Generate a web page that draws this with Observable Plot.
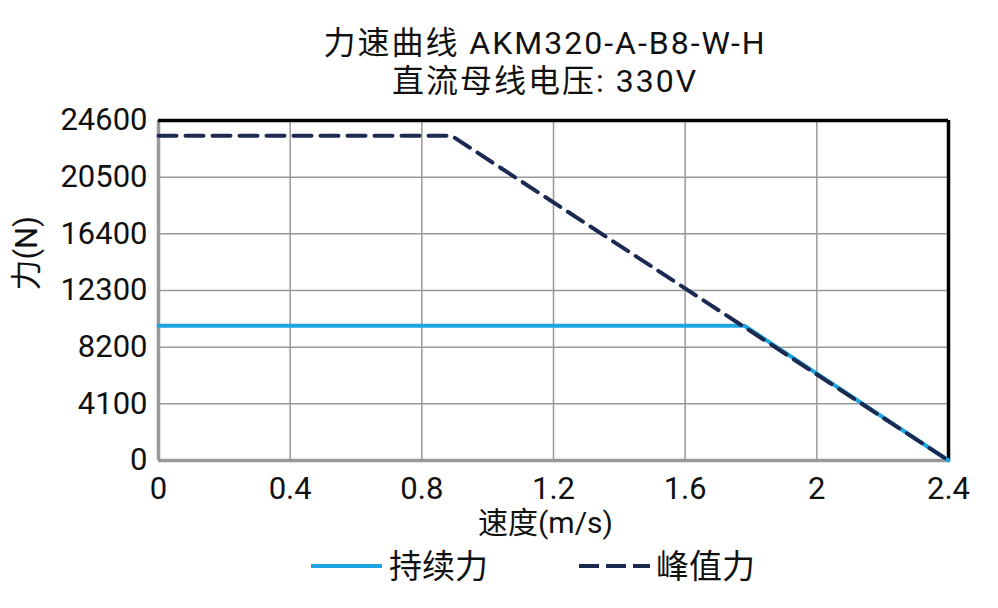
<!DOCTYPE html>
<html><head><meta charset="utf-8">
<script src="https://cdn.jsdelivr.net/npm/d3@7"></script>
<script src="https://cdn.jsdelivr.net/npm/@observablehq/plot@0.6"></script>
<style>
body{margin:0;background:#fff;font-family:Roboto,"Noto Sans CJK SC",sans-serif;}
#wrap{position:relative;width:998px;height:608px;}
.title{position:absolute;left:0;width:1090px;text-align:center;font-size:32px;color:#111;line-height:1;letter-spacing:2px;}
#legend{position:absolute;top:540px;left:0;width:998px;height:60px;}
#chart{position:absolute;top:0;left:0;}
</style></head>
<body><div id="wrap">
<div id="chart"></div>
<div class="title" style="top:27px">力速曲线 AKM320-A-B8-W-H</div>
<div class="title" style="top:65px">直流母线电压: 330V</div>
<div id="legend"></div>
</div>
<script>
const xTicks = [0, 0.4, 0.8, 1.2, 1.6, 2, 2.4];
const yTicks = [0, 4100, 8200, 12300, 16400, 20500, 24600];
const contSpeed = [0, 1.78, 2.4];
const contForce = [9750, 9750, 0];
const peakSpeed = [0, 0.89, 2.4];
const peakForce = [23500, 23500, 0];
const seriesNames = ["持续力", "峰值力"];
const colors = ["#1ea4df", "#1c2a52"];

const cont = contSpeed.map((s, i) => ({s, f: contForce[i]}));
const peak = peakSpeed.map((s, i) => ({s, f: peakForce[i]}));
const FONT = 'Roboto,"Noto Sans CJK SC",sans-serif';

const plot = Plot.plot({
  width: 998, height: 608,
  marginLeft: 158, marginRight: 50, marginTop: 120, marginBottom: 148,
  style: {fontFamily: FONT, fontSize: "31px", color: "#111", background: "#fff"},
  x: {domain: [0, 2.4], ticks: xTicks, tickFormat: d => String(d), label: null},
  y: {domain: [0, 24600], ticks: yTicks, tickFormat: d => String(d), label: null},
  marks: [
    Plot.gridX(xTicks, {stroke: "#999", strokeOpacity: 1, strokeWidth: 1.5}),
    Plot.gridY(yTicks, {stroke: "#999", strokeOpacity: 1, strokeWidth: 1.5}),
    Plot.axisX({ticks: xTicks, tickSize: 0, tickPadding: 16, fontSize: 31, tickFormat: d => String(d)}),
    Plot.axisY({ticks: yTicks, tickSize: 0, tickPadding: 11, fontSize: 31, tickFormat: d => String(d)}),
    Plot.ruleX([0], {stroke: "#999", strokeWidth: 3.5}),
    Plot.ruleY([0], {stroke: "#999", strokeWidth: 3.5}),
    Plot.ruleX([2.4], {stroke: "#000", strokeWidth: 3.5}),
    Plot.ruleY([24600], {stroke: "#000", strokeWidth: 3.5}),
    Plot.line(cont, {x: "s", y: "f", stroke: colors[0], strokeWidth: 4}),
    Plot.line(peak, {x: "s", y: "f", stroke: colors[1], strokeWidth: 4, strokeDasharray: "18,9"}),
    Plot.text(["速度(m/s)"], {frameAnchor: "bottom", dy: 72, dx: -8, fontSize: 30, fill: "#111"}),
    Plot.text(["力(N)"], {frameAnchor: "left", dx: -131, rotate: -90, fontSize: 31, fill: "#111"})
  ]
});
document.getElementById("chart").appendChild(plot);

// legend
const ns = "http://www.w3.org/2000/svg";
const lg = document.createElementNS(ns, "svg");
lg.setAttribute("width", 998); lg.setAttribute("height", 60);
const items = [{x1: 311, x2: 382, tx: 389, dash: null}, {x1: 579, x2: 650, tx: 656, dash: "20,7"}];
items.forEach((it, i) => {
  const l = document.createElementNS(ns, "line");
  l.setAttribute("x1", it.x1); l.setAttribute("x2", it.x2);
  l.setAttribute("y1", 26); l.setAttribute("y2", 26);
  l.setAttribute("stroke", colors[i]); l.setAttribute("stroke-width", 4);
  if (it.dash) l.setAttribute("stroke-dasharray", it.dash);
  lg.appendChild(l);
  const t = document.createElementNS(ns, "text");
  t.setAttribute("x", it.tx); t.setAttribute("y", 26);
  t.setAttribute("dy", "0.36em");
  t.setAttribute("font-size", 33); t.setAttribute("fill", "#111");
  t.setAttribute("font-family", FONT);
  t.textContent = seriesNames[i];
  lg.appendChild(t);
});
document.getElementById("legend").appendChild(lg);
</script>
</body></html>
